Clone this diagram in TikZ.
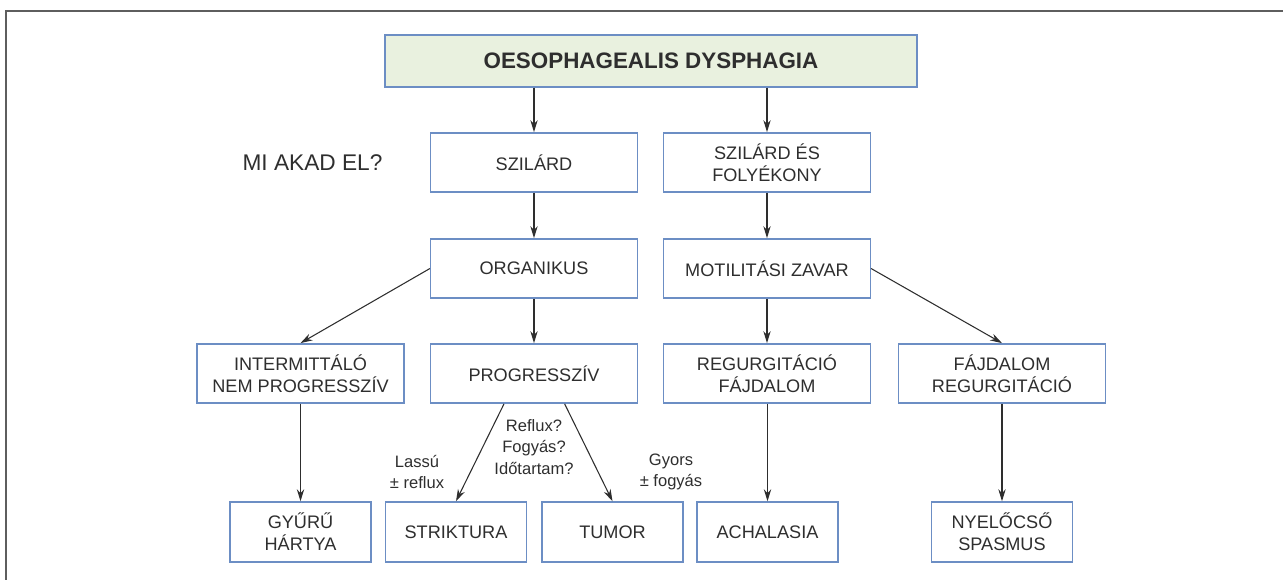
\documentclass[tikz,border=0pt]{standalone}
\usepackage{fontspec}
\setmainfont{Liberation Sans}
\usetikzlibrary{arrows.meta}
\definecolor{boxedge}{HTML}{6C8EC4}
\definecolor{titlefill}{HTML}{E9F1DF}
\definecolor{ink}{HTML}{2E2E2E}
\definecolor{framegray}{HTML}{5E5E5E}
\tikzset{
  box/.style={draw=boxedge, line width=1.1pt, fill=white, inner sep=0pt,
    align=center, text=ink, font=\fontsize{13.6}{16.5}\selectfont},
  midbox/.style={box, minimum width=155pt, minimum height=44.5pt},
  leafbox/.style={box, minimum width=106pt, minimum height=45pt},
  titlebox/.style={box, fill=titlefill, minimum width=399pt, minimum height=39pt,
    font=\fontsize{16.8}{20}\selectfont\bfseries},
  link/.style={draw=ink, line width=0.8pt, -{Stealth[length=9pt, width=5.5pt]}},
  note/.style={align=center, text=ink, inner sep=0pt, font=\fontsize{12.4}{16}\selectfont},
}
\begin{document}
\begin{tikzpicture}[x=0.75pt, y=-0.75pt]
\useasboundingbox (0,0) rectangle (1283,580);
% outer frame: top and left edges only
\draw[framegray, line width=1.5pt] (6,580) -- (6,11) -- (1283,11);

% boxes
\node[titlebox] (top) at (651,61) {OESOPHAGEALIS DYSPHAGIA};
\node[midbox] (szil) at (534,162.5) {SZILÁRD};
\node[midbox] (szfo) at (767,162.5) {SZILÁRD ÉS\\FOLYÉKONY};
\node[midbox] (org) at (534,268.5) {ORGANIKUS};
\node[midbox] (mot) at (767,268.5) {MOTILITÁSI ZAVAR};
\node[midbox] (inter) at (300.5,373.5) {INTERMITTÁLÓ\\NEM PROGRESSZÍV};
\node[midbox] (prog) at (534,373.5) {PROGRESSZÍV};
\node[midbox] (regf) at (767,373.5) {REGURGITÁCIÓ\\FÁJDALOM};
\node[midbox] (fajr) at (1002,373.5) {FÁJDALOM\\REGURGITÁCIÓ};
\node[leafbox] (gyuru) at (300.5,532) {GYŰRŰ\\HÁRTYA};
\node[leafbox] (strik) at (456,532) {STRIKTURA};
\node[leafbox] (tumor) at (612.5,532) {TUMOR};
\node[leafbox] (achal) at (767.5,532) {ACHALASIA};
\node[leafbox] (spasm) at (1002,532) {NYELŐCSŐ\\SPASMUS};

% free text
\node[text=ink, inner sep=0pt, font=\fontsize{17}{20}\selectfont] (q) at (312.5,163) {MI AKAD EL?};
\node[note] (qs) at (534,447) {Reflux?\\Fogyás?\\Időtartam?};
\node[note] (slow) at (417,472) {Lassú\\± reflux};
\node[note] (fast) at (671,472) {Gyors\\± fogyás};

% connectors
\draw[link] (top.south -| szil) -- (szil.north);
\draw[link] (top.south -| szfo) -- (szfo.north);
\draw[link] (szil) -- (org);
\draw[link] (szfo) -- (mot);
\draw[link] (org.west) -- (inter.north);
\draw[link] (org) -- (prog);
\draw[link] (mot) -- (regf);
\draw[link] (mot.east) -- (fajr.north);
\draw[link] (inter) -- (gyuru);
\draw[link] ([xshift=-22.5pt]prog.south) -- (strik.north);
\draw[link] ([xshift=23pt]prog.south) -- (tumor.north);
\draw[link] (regf.south -| achal) -- (achal.north);
\draw[link] (fajr) -- (spasm);
\end{tikzpicture}
\end{document}
